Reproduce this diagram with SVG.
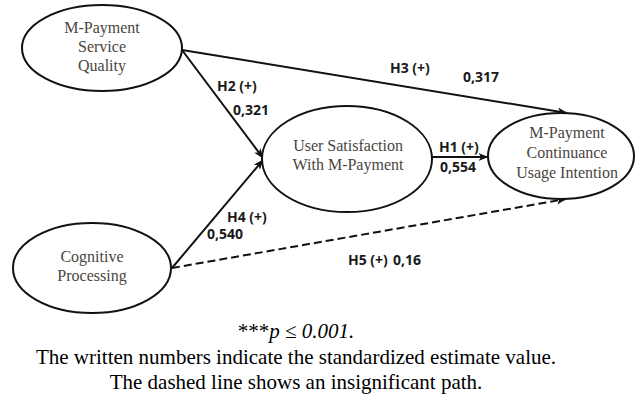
<svg xmlns="http://www.w3.org/2000/svg" width="636" height="396" viewBox="0 0 636 396">
  <style>
    .node ellipse { fill: #ffffff; stroke: #111111; stroke-width: 2; }
    .node text { font-family: "Liberation Serif", "Times New Roman", serif; font-size: 16px; fill: #4a4540; text-anchor: middle; }
    .edge { fill: none; stroke: #111111; stroke-width: 2; }
    .dashed { stroke-dasharray: 8 4; }
    .lbl { font-family: "Open Sans", "DejaVu Sans", sans-serif; font-size: 14px; font-weight: bold; fill: #1a1a1a; }
    .note { font-family: "Liberation Serif", "Times New Roman", serif; font-size: 21px; fill: #000000; text-anchor: middle; }
  </style>
  <defs>
    <marker id="arrow" viewBox="0 0 10 8" refX="9.5" refY="4" markerWidth="10" markerHeight="8" markerUnits="userSpaceOnUse" orient="auto">
      <path d="M0,0 L10,4 L0,8 L2.5,4 z" fill="#111111"/>
    </marker>
  </defs>

  <rect width="636" height="396" fill="#ffffff"/>

  <!-- paths between constructs -->
  <g id="connectors">
    <line class="edge" x1="182" y1="50" x2="567" y2="113" marker-end="url(#arrow)"/>
    <line class="edge" x1="182" y1="50" x2="263" y2="158" marker-end="url(#arrow)"/>
    <line class="edge" x1="172" y1="268" x2="263" y2="160" marker-end="url(#arrow)"/>
    <line class="edge" x1="432" y1="157" x2="488" y2="157" marker-end="url(#arrow)"/>
    <line class="edge dashed" x1="172" y1="268" x2="566" y2="199" marker-end="url(#arrow)"/>
  </g>

  <!-- constructs -->
  <g id="service-quality" class="node">
    <ellipse cx="102" cy="48" rx="80" ry="43"/>
    <text x="102" y="33">M-Payment</text>
    <text x="102" y="52">Service</text>
    <text x="102" y="71">Quality</text>
  </g>
  <g id="user-satisfaction" class="node">
    <ellipse cx="347" cy="159" rx="85" ry="53"/>
    <text x="348" y="151">User Satisfaction</text>
    <text x="348" y="170">With M-Payment</text>
  </g>
  <g id="continuance-intention" class="node">
    <ellipse cx="561" cy="156" rx="73" ry="43"/>
    <text x="567" y="138">M-Payment</text>
    <text x="567" y="158">Continuance</text>
    <text x="567" y="178">Usage Intention</text>
  </g>
  <g id="cognitive-processing" class="node">
    <ellipse cx="92" cy="268" rx="79" ry="45"/>
    <text x="92" y="262">Cognitive</text>
    <text x="92" y="281">Processing</text>
  </g>

  <!-- path labels -->
  <g id="labels">
    <text class="lbl" x="217" y="91">H2 (+)</text>
    <text class="lbl" x="233" y="115">0,321</text>
    <text class="lbl" x="390" y="73">H3 (+)</text>
    <text class="lbl" x="463" y="82">0,317</text>
    <text class="lbl" x="439" y="152">H1 (+)</text>
    <text class="lbl" x="440" y="172">0,554</text>
    <text class="lbl" x="227" y="222">H4 (+)</text>
    <text class="lbl" x="207" y="239">0,540</text>
    <text class="lbl" x="348" y="265">H5 (+)<tspan x="393">0,16</tspan></text>
  </g>

  <!-- footnote -->
  <g id="footnote">
    <text class="note" x="296" y="338">***<tspan font-style="italic">p ≤ 0.001.</tspan></text>
    <text class="note" x="296" y="364">The written numbers indicate the standardized estimate value.</text>
    <text class="note" x="296" y="389">The dashed line shows an insignificant path.</text>
  </g>
</svg>
